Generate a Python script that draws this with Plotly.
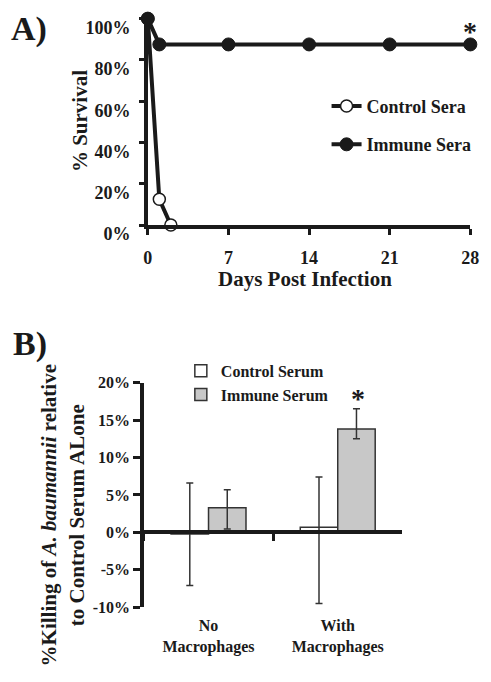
import plotly.graph_objects as go

# ---- Panel A data ----
days_control = [0, 1, 2]
surv_control = [1.0, 0.125, 0.0]
days_immune = [0, 1, 7, 14, 21, 28]
surv_immune = [1.0, 0.875, 0.875, 0.875, 0.875, 0.875]
a_xticks = [0, 7, 14, 21, 28]
a_yticks = [0, 0.2, 0.4, 0.6, 0.8, 1.0]
a_yticklabels = ["0%", "20%", "40%", "60%", "80%", "100%"]

# ---- Panel B data ----
categories = ["No<br>Macrophages", "With<br>Macrophages"]
control_vals = [-0.2, 0.7]
control_err_plus = [6.8, 6.7]
control_err_minus = [6.9, 10.2]
immune_vals = [3.3, 13.8]
immune_err_plus = [2.4, 2.7]
immune_err_minus = [2.85, 1.3]
b_yticks = [-10, -5, 0, 5, 10, 15, 20]
b_yticklabels = ["-10%", "-5%", "0%", "5%", "10%", "15%", "20%"]

FONT = "Liberation Serif"
INK = "#1a1a1a"
W, H = 491, 682

def px(x):
    return x / W

def py(y):
    return 1 - y / H

fig = go.Figure()

# Panel A traces
fig.add_trace(go.Scatter(
    x=days_control, y=surv_control, mode="lines+markers", name="Control Sera",
    line=dict(color=INK, width=4),
    marker=dict(symbol="circle", size=12, color="white", line=dict(color=INK, width=1.5)),
    xaxis="x", yaxis="y", cliponaxis=False, legend="legend", legendgroup="c",
))
fig.add_trace(go.Scatter(
    x=days_immune, y=surv_immune, mode="lines+markers", name="Immune Sera",
    line=dict(color=INK, width=4),
    marker=dict(symbol="circle", size=13, color=INK, line=dict(color=INK, width=1)),
    xaxis="x", yaxis="y", cliponaxis=False, legend="legend", legendgroup="i",
))

# Panel B traces
fig.add_trace(go.Bar(
    x=categories, y=control_vals, name="Control Serum",
    marker=dict(color="white", line=dict(color="#333333", width=1.5)),
    error_y=dict(type="data", symmetric=False, array=control_err_plus,
                 arrayminus=control_err_minus, color="#333333", thickness=1.5, width=3.5),
    xaxis="x2", yaxis="y2", legend="legend2", legendgroup="cb",
))
fig.add_trace(go.Bar(
    x=categories, y=immune_vals, name="Immune Serum",
    marker=dict(color="#c8c8c8", line=dict(color="#333333", width=1.5)),
    error_y=dict(type="data", symmetric=False, array=immune_err_plus,
                 arrayminus=immune_err_minus, color="#333333", thickness=1.5, width=3.5),
    xaxis="x2", yaxis="y2", legend="legend2", legendgroup="ib",
))

axis_common = dict(showgrid=False, zeroline=False, showline=True, linecolor=INK,
                   linewidth=3.5, ticks="outside", tickcolor=INK, tickwidth=3)

fig.update_layout(
    autosize=True,
    margin=dict(l=0, r=0, t=0, b=0, pad=0),
    paper_bgcolor="white", plot_bgcolor="white",
    font=dict(family=FONT, color=INK, weight="bold"),
    barmode="group", bargap=0.42, bargroupgap=0,
    xaxis=dict(domain=[px(147), px(479)], range=[0, 28], tickvals=a_xticks,
               ticklen=6, anchor="y", ticklabelstandoff=8,
               tickfont=dict(size=18, family=FONT, weight="bold"), **axis_common),
    yaxis=dict(domain=[py(226), py(10)], range=[0, 1.005], tickvals=a_yticks,
               ticktext=a_yticklabels, ticklen=5, anchor="x", ticklabelshift=9,
               ticklabelstandoff=5,
               tickfont=dict(size=18, family=FONT, weight="bold"), **axis_common),
    xaxis2=dict(domain=[px(143), px(409)], type="category", categoryorder="array",
                categoryarray=categories, tickson="boundaries", ticklen=7,
                anchor="free", position=py(546), ticklabelstandoff=78,
                tickfont=dict(size=16, family=FONT, weight="bold"), **axis_common),
    yaxis2=dict(domain=[py(624), py(390)], range=[-10, 20], tickvals=b_yticks,
                ticktext=b_yticklabels, ticklen=7, anchor="x2", ticklabelstandoff=0,
                tickfont=dict(size=16, family=FONT, weight="bold"), **axis_common),
    legend=dict(x=px(331), y=py(83), xanchor="left", yanchor="top",
                bgcolor="rgba(0,0,0,0)", font=dict(size=18, family=FONT, weight="bold"),
                traceorder="grouped", tracegroupgap=12, itemwidth=30),
    legend2=dict(x=px(181), y=py(360), xanchor="left", yanchor="top",
                 bgcolor="rgba(0,0,0,0)", font=dict(size=16, family=FONT, weight="bold"),
                 traceorder="grouped", tracegroupgap=0, itemwidth=30),
    showlegend=True,
)

ann = [
    dict(text="A)", x=px(4), y=py(22), xanchor="left", yanchor="middle",
         font=dict(size=34)),
    dict(text="B)", x=px(6), y=py(350), xanchor="left", yanchor="middle",
         font=dict(size=34)),
    dict(text="% Survival", x=px(78), y=py(118), textangle=-90,
         xanchor="center", yanchor="middle", font=dict(size=21)),
    dict(text="Days Post Infection", x=px(309), y=py(282),
         xanchor="center", yanchor="middle", font=dict(size=21)),
    dict(text="%Killing of <i>A. baumannii</i> relative<br>to Control Serum ALone",
         x=px(59), y=py(528), textangle=-90, xanchor="center", yanchor="middle",
         font=dict(size=21)),
]
for a in ann:
    a.update(xref="paper", yref="paper", showarrow=False)
    fig.add_annotation(**a)

# significance asterisks
fig.add_annotation(text="*", x=days_immune[-1], y=surv_immune[-1], xref="x", yref="y",
                   yshift=13, showarrow=False, font=dict(size=28))
fig.add_annotation(text="*", x=categories[1], y=immune_vals[1] + immune_err_plus[1],
                   xref="x2", yref="y2", xshift=20, yshift=10, showarrow=False,
                   font=dict(size=28))

fig.write_html(
    "out.html",
    default_width="100vw",
    default_height="100vh",
    config={"responsive": True, "displayModeBar": False},
    post_script=(
        "document.documentElement.style.margin='0';"
        "document.documentElement.style.overflow='hidden';"
        "document.body.style.margin='0';document.body.style.padding='0';"
        "document.body.style.overflow='hidden';"
        "var d=document.getElementById('{plot_id}');"
        "d.style.position='fixed';d.style.left='0px';d.style.top='0px';"
        "d.style.width='100vw';d.style.height='100vh';"
        "Plotly.Plots.resize(d);"
    ),
)
